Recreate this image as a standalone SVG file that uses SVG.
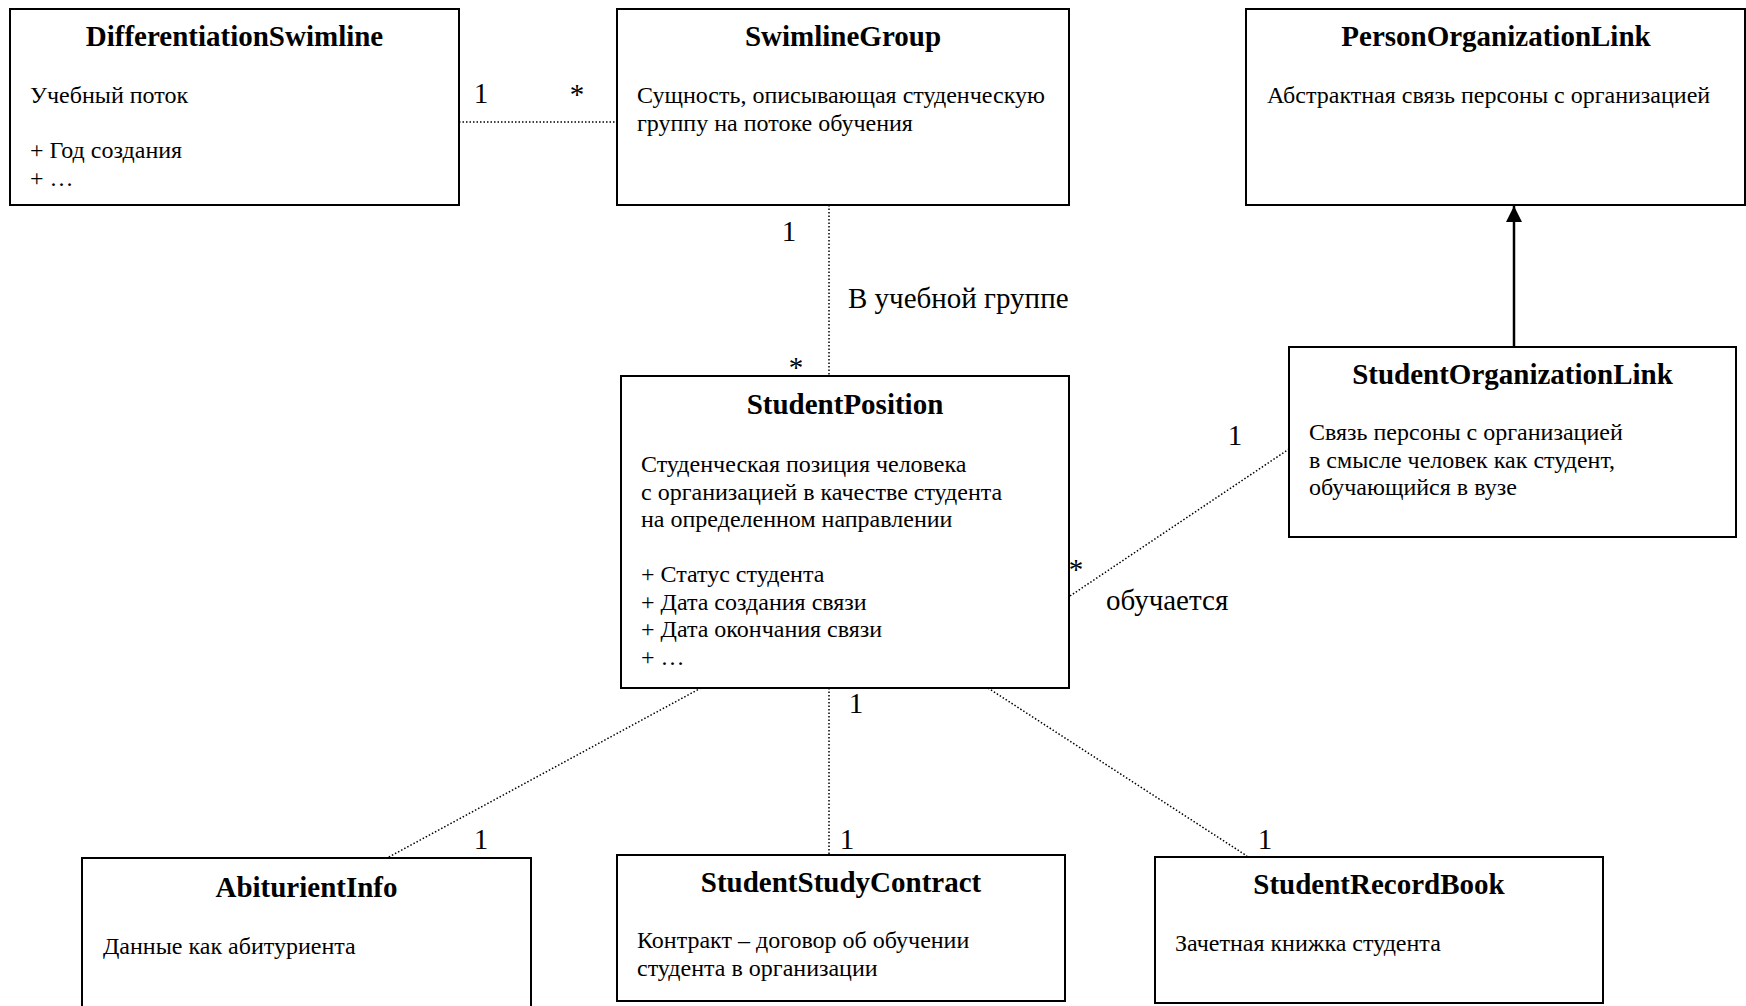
<svg xmlns="http://www.w3.org/2000/svg" width="1746" height="1006" viewBox="0 0 1746 1006">
<style>
  .box { fill: #fff; stroke: #000; stroke-width: 2; }
  .title { font-family: "Liberation Serif", "Times New Roman", serif; font-size: 29px; font-weight: bold; text-anchor: middle; fill: #000; }
  .body { font-family: "Liberation Serif", "Times New Roman", serif; font-size: 24px; fill: #000; }
  .lbl { font-family: "Liberation Serif", "Times New Roman", serif; font-size: 29px; fill: #000; }
  .mid { text-anchor: middle; }
  .dot { stroke: #000; stroke-width: 1.5; stroke-dasharray: 1.5 2; fill: none; }
  .solid { stroke: #000; stroke-width: 2.5; fill: none; }
</style>
<defs>
  <marker id="tri" viewBox="0 0 16 16" refX="16" refY="8" markerWidth="16" markerHeight="16" markerUnits="userSpaceOnUse" orient="auto">
    <path d="M0,0 L16,8 L0,16 Z" fill="#000"/>
  </marker>
</defs>
<rect width="1746" height="1006" fill="#fff"/>

<g id="connectors">
  <line class="dot" x1="459" y1="122" x2="617" y2="122"/>
  <line class="dot" x1="829" y1="205" x2="829" y2="376"/>
  <line class="dot" x1="1070" y1="596" x2="1289" y2="449"/>
  <line class="dot" x1="701" y1="688" x2="387" y2="858"/>
  <line class="dot" x1="829" y1="688" x2="829" y2="855"/>
  <line class="dot" x1="988" y1="688" x2="1247" y2="856"/>
  <line class="solid" x1="1514" y1="347" x2="1514" y2="206" marker-end="url(#tri)"/>
  <text class="lbl mid" x="481" y="103">1</text>
  <text class="lbl mid" x="577" y="104">*</text>
  <text class="lbl mid" x="789" y="241">1</text>
  <text class="lbl mid" x="796" y="377">*</text>
  <text class="lbl" x="848" y="308">В учебной группе</text>
  <text class="lbl mid" x="1235" y="445">1</text>
  <text class="lbl mid" x="1076" y="579">*</text>
  <text class="lbl" x="1106" y="610">обучается</text>
  <text class="lbl mid" x="856" y="713">1</text>
  <text class="lbl mid" x="847" y="849">1</text>
  <text class="lbl mid" x="481" y="849">1</text>
  <text class="lbl mid" x="1265" y="849">1</text>
</g>

<g id="DifferentiationSwimline">
  <rect class="box" x="10" y="9" width="449" height="196"/>
  <text class="title" x="234.5" y="46">DifferentiationSwimline</text>
  <text class="body" x="30" y="103">Учебный поток</text>
  <text class="body" x="30" y="158">+ Год создания</text>
  <text class="body" x="30" y="185.5">+ …</text>
</g>

<g id="SwimlineGroup">
  <rect class="box" x="617" y="9" width="452" height="196"/>
  <text class="title" x="843" y="46">SwimlineGroup</text>
  <text class="body" x="637" y="103">Сущность, описывающая студенческую</text>
  <text class="body" x="637" y="130.5">группу на потоке обучения</text>
</g>

<g id="PersonOrganizationLink">
  <rect class="box" x="1246" y="9" width="499" height="196"/>
  <text class="title" x="1496" y="46">PersonOrganizationLink</text>
  <text class="body" x="1267" y="103">Абстрактная связь персоны с организацией</text>
</g>

<g id="StudentOrganizationLink">
  <rect class="box" x="1289" y="347" width="447" height="190"/>
  <text class="title" x="1512.5" y="383.5">StudentOrganizationLink</text>
  <text class="body" x="1309" y="440">Связь персоны с организацией</text>
  <text class="body" x="1309" y="467.5">в смысле человек как студент,</text>
  <text class="body" x="1309" y="495">обучающийся в вузе</text>
</g>

<g id="StudentPosition">
  <rect class="box" x="621" y="376" width="448" height="312"/>
  <text class="title" x="845" y="414">StudentPosition</text>
  <text class="body" x="641" y="472">Студенческая позиция человека</text>
  <text class="body" x="641" y="499.5">с организацией в качестве студента</text>
  <text class="body" x="641" y="527">на определенном направлении</text>
  <text class="body" x="641" y="582">+ Статус студента</text>
  <text class="body" x="641" y="609.5">+ Дата создания связи</text>
  <text class="body" x="641" y="637">+ Дата окончания связи</text>
  <text class="body" x="641" y="664.5">+ …</text>
</g>

<g id="AbiturientInfo">
  <rect class="box" x="82" y="858" width="449" height="160"/>
  <text class="title" x="306.5" y="897">AbiturientInfo</text>
  <text class="body" x="103" y="953.5">Данные как абитуриента</text>
</g>

<g id="StudentStudyContract">
  <rect class="box" x="617" y="855" width="448" height="146"/>
  <text class="title" x="841" y="891.5">StudentStudyContract</text>
  <text class="body" x="637" y="948">Контракт – договор об обучении</text>
  <text class="body" x="637" y="975.5">студента в организации</text>
</g>

<g id="StudentRecordBook">
  <rect class="box" x="1155" y="857" width="448" height="146"/>
  <text class="title" x="1379" y="893.5">StudentRecordBook</text>
  <text class="body" x="1175" y="951">Зачетная книжка студента</text>
</g>
</svg>
